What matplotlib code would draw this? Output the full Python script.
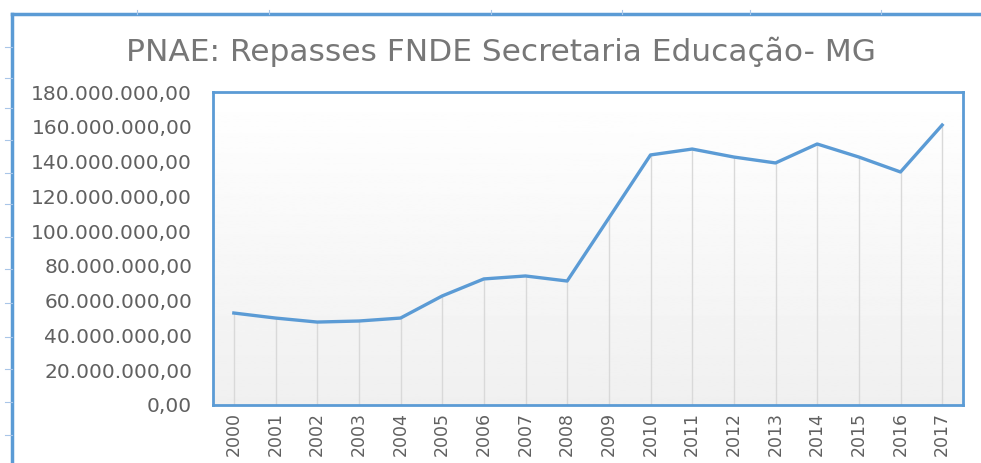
import numpy as np
import matplotlib
matplotlib.use("Agg")
import matplotlib.pyplot as plt
from matplotlib.lines import Line2D

# dados
years = [str(y) for y in range(2000, 2018)]
repasses = [52.9e6, 50.0e6, 47.7e6, 48.3e6, 50.0e6, 62.7e6, 72.5e6, 74.2e6, 71.3e6,
            107.5e6, 143.8e6, 147.2e6, 142.6e6, 139.2e6, 150.1e6, 142.6e6, 134.0e6, 161.0e6]
yticks = np.arange(0, 180e6 + 1, 20e6)
title = "PNAE: Repasses FNDE Secretaria Educação- MG"

blue = "#5b9bd5"
text_gray = "#606060"

# marcas da planilha (pixels) na moldura externa
left_marks = [47, 78, 108, 140, 173, 204, 237, 269, 303, 337, 369, 402, 435]
top_marks = [137, 269, 491, 622, 750, 881]

W, H = 981, 463
fig = plt.figure(figsize=(W / 100, H / 100), dpi=100)

# moldura externa
fx0, fy0 = 12 / W, 1 - 14 / H
fig.add_artist(Line2D([fx0, fx0], [0, fy0], transform=fig.transFigure, color=blue, lw=2.5))
fig.add_artist(Line2D([fx0, 1], [fy0, fy0], transform=fig.transFigure, color=blue, lw=2.5))
for py in left_marks:
    fig.add_artist(Line2D([5 / W, fx0], [1 - py / H] * 2, transform=fig.transFigure,
                          color="#a9c6e8", lw=0.8))
for px in top_marks:
    fig.add_artist(Line2D([px / W] * 2, [fy0, 1 - 10 / H], transform=fig.transFigure,
                          color="#a9c6e8", lw=0.8))

fig.text(501 / W, 1 - 52 / H, title, ha="center", va="center", fontsize=22.5,
         color="#777777", family="DejaVu Sans")

ax = fig.add_axes([213 / W, 58 / H, 750 / W, 313 / H])
x = np.arange(len(years))

# fundo em gradiente
grad = np.linspace(0.94, 1.0, 256).reshape(-1, 1)
ax.imshow(grad, extent=[0, 1, 0, 1], transform=ax.transAxes, aspect="auto",
          cmap="gray", vmin=0, vmax=1, origin="lower", zorder=0)

ax.vlines(x, 0, repasses, color="#d9d9d9", lw=1, zorder=1)
ax.plot(x, repasses, color=blue, lw=2.4, zorder=3)

ax.set_xlim(-0.5, len(years) - 0.5)
ax.set_ylim(0, 180e6)
ax.set_xticks(x)
ax.set_xticklabels(years, rotation=90)
ax.set_yticks(yticks)
ax.set_yticklabels([f"{v:,.2f}".replace(",", "X").replace(".", ",").replace("X", ".") for v in yticks])
ax.tick_params(axis="y", length=0, pad=15, labelsize=14.5, labelcolor=text_gray)
ax.tick_params(axis="x", length=0, pad=5, labelsize=12.5, labelcolor=text_gray)
for lbl in ax.get_xticklabels() + ax.get_yticklabels():
    lbl.set_family("DejaVu Sans")
for sp in ax.spines.values():
    sp.set_color(blue)
    sp.set_linewidth(2)

fig.savefig("out.png", dpi=100, facecolor="white")
